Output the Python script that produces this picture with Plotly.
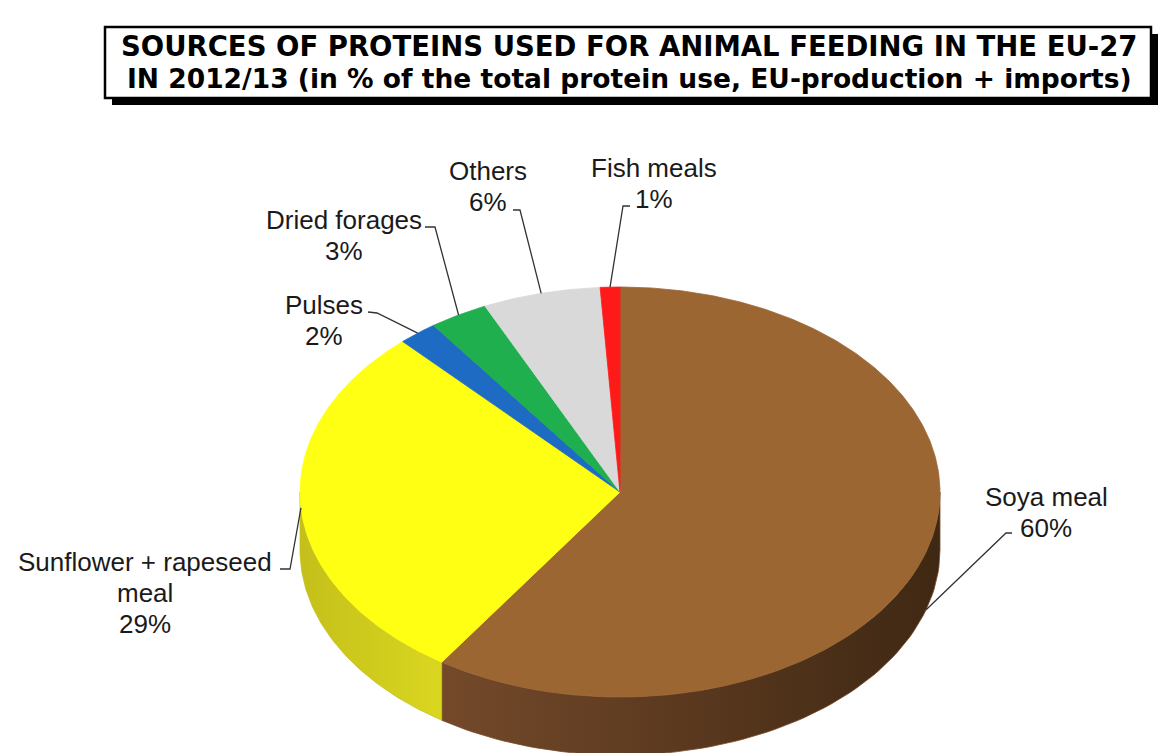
import numpy as np
import plotly.graph_objects as go

# ---------------- data ----------------
labels = ["Soya meal", "Sunflower + rapeseed<br>meal", "Pulses", "Dried forages", "Others", "Fish meals"]
values = [60, 29, 2, 3, 6, 1]
top_colors = ["#9C6633", "#FFFF14", "#1E6BC4", "#1FAF4F", "#D9D9D9", "#FF1A1A"]
side_colors = [("#74492A", "#3F2813"), ("#C4C01A", "#DAD620"), ("#174F90", "#174F90"),
               ("#178A3D", "#178A3D"), ("#A8A8A8", "#A8A8A8"), ("#C01010", "#C01010")]

title_lines = ["SOURCES OF PROTEINS USED FOR ANIMAL FEEDING IN THE EU-27",
               "IN 2012/13 (in % of the total protein use, EU-production + imports)"]

# ---------------- layout constants ----------------
W, H = 1166, 753
CX, CY, RX, RY, DEPTH = 620, 492, 320, 205, 58
LINE_H = 31
# label block centres and leader elbows (tick start, elbow)
label_pos = [(1046, 512), (145, 593), (324, 320), (344, 235), (488, 186), (654, 183)]
leader_ticks = [((1012, 533), (1006, 533)), ((280, 569), (290, 569)), ((368, 312), (377, 313)),
                ((425, 227), (435, 227)), ((513, 210), (520, 210)), ((630, 206), (623, 206))]

fig = go.Figure()

def ell(t):
    r = np.radians(t)
    return CX + RX * np.cos(r), CY - RY * np.sin(r)

total = sum(values)
angles = []
start = 90.0
for v in values:
    end = start - 360.0 * v / total
    angles.append((start, end))
    start = end

# side faces (front half only)
for i, (s, e) in enumerate(angles):
    lo, hi = e, s
    for k in (-1, 0, 1):
        a = max(lo, -180 + 360 * k)
        b = min(hi, 360 * k)
        if b - a > 0.01:
            t = np.linspace(a, b, 80)
            x, y = ell(t)
            xs = np.concatenate([x, x[::-1], [x[0]]])
            ys = np.concatenate([y, (y + DEPTH)[::-1], [y[0]]])
            c1, c2 = side_colors[i]
            fig.add_trace(go.Scatter(
                x=xs, y=ys, mode="lines", fill="toself",
                line=dict(width=0.8, color=c1),
                fillgradient=dict(type="horizontal", colorscale=[[0, c1], [1, c2]]),
                hoverinfo="skip", showlegend=False))

# top faces
for i, (s, e) in enumerate(angles):
    t = np.linspace(s, e, max(4, int(abs(s - e) * 2)))
    x, y = ell(t)
    xs = np.concatenate([[CX], x, [CX]])
    ys = np.concatenate([[CY], y, [CY]])
    fig.add_trace(go.Scatter(
        x=xs, y=ys, mode="lines", fill="toself", fillcolor=top_colors[i],
        line=dict(width=0.8, color=top_colors[i]),
        hoverinfo="skip", showlegend=False))

# leader lines
for i, (s, e) in enumerate(angles):
    mid = (s + e) / 2
    px, py = ell(mid)
    if np.sin(np.radians(mid)) < -0.2:
        py = py + DEPTH
    (x0, y0), (x1, y1) = leader_ticks[i]
    fig.add_trace(go.Scatter(
        x=[x0, x1, px], y=[y0, y1, py], mode="lines",
        line=dict(color="#333333", width=1.3),
        hoverinfo="skip", showlegend=False))

# labels (one annotation per line for tighter spacing)
for i, v in enumerate(values):
    lx, ly = label_pos[i]
    lines = labels[i].split("<br>") + [f"{v}%"]
    n = len(lines)
    for j, ln in enumerate(lines):
        fig.add_annotation(x=lx, y=ly + (j - (n - 1) / 2) * LINE_H, xref="x", yref="y",
                           text=ln, showarrow=False,
                           font=dict(family="Liberation Sans, Arial, sans-serif", size=26, color="#1A1A1A"),
                           align="center", xanchor="center", yanchor="middle")

# title box
fig.add_shape(type="rect", x0=112, y0=34, x1=1158, y1=105, xref="x", yref="y",
              fillcolor="black", line=dict(width=0), layer="above")
fig.add_shape(type="rect", x0=105, y0=27, x1=1151, y1=98, xref="x", yref="y",
              fillcolor="white", line=dict(width=2.5, color="black"), layer="above")
for j, (txt, ty, fs) in enumerate(zip(title_lines, [46, 78], [27.5, 26.5])):
    fig.add_annotation(x=629, y=ty, xref="x", yref="y", text=f"<b>{txt}</b>", showarrow=False,
                       font=dict(family="DejaVu Sans, sans-serif", size=fs, color="black"),
                       xanchor="center", yanchor="middle")

fig.update_xaxes(range=[0, W], visible=False, fixedrange=True)
fig.update_yaxes(range=[H, 0], visible=False, fixedrange=True)
fig.update_layout(width=W, height=H, margin=dict(l=0, r=0, t=0, b=0),
                  paper_bgcolor="white", plot_bgcolor="white")

fig.write_html("out.html")
